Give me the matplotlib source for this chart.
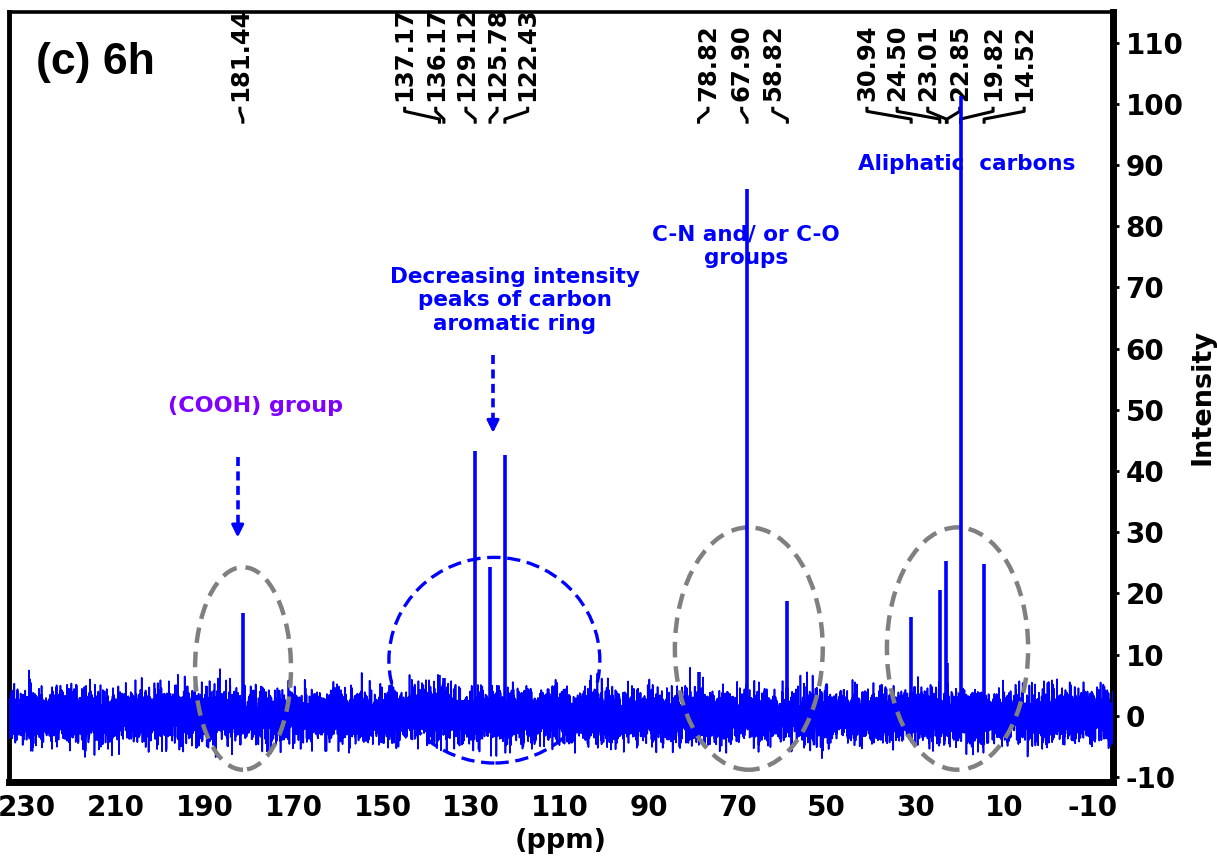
import numpy as np
import matplotlib

matplotlib.use("Agg")
import matplotlib.pyplot as plt
import matplotlib.transforms as mtransforms
from matplotlib.patches import Ellipse

plt.rcParams.update(
    {
        "font.family": ["DejaVu Sans"],
        "font.weight": "bold",
        "axes.labelweight": "bold",
        "axes.unicode_minus": False,
    }
)

BLUE = "#0000FF"
GRAY = "#808080"
VIOLET = "#8000FF"

# 13C NMR peaks (ppm) and their intensities
peak_ppm = [181.44, 137.17, 136.17, 129.12, 125.78, 122.43,
            78.82, 67.90, 58.82,
            30.94, 24.50, 23.01, 22.85, 19.82, 14.52]
peak_int = [16.8, 6.7, 6.2, 43.2, 24.3, 42.7,
            7.2, 86.1, 18.8,
            16.2, 20.6, 25.3, 8.7, 101.3, 24.8]
peak_labels = ["181.44", "137.17", "136.17", "129.12", "125.78", "122.43",
               "78.82", "67.90", "58.82",
               "30.94", "24.50", "23.01", "22.85", "19.82", "14.52"]

x_ticks = [230, 210, 190, 170, 150, 130, 110, 90, 70, 50, 30, 10, -10]
y_ticks = [-10, 0, 10, 20, 30, 40, 50, 60, 70, 80, 90, 100, 110]

# where each rotated shift label sits along the ppm axis
label_pos = [182.1, 145.0, 138.0, 131.2, 124.2, 117.3,
             76.7, 69.1, 62.1,
             40.9, 34.1, 27.2, 20.0, 12.5, 5.5]

# baseline noise of the spectrum
rng = np.random.default_rng(11)
ppm_grid = np.linspace(235, -15, 14000)
baseline = rng.normal(0, 2.05, ppm_grid.size)

fig = plt.figure(figsize=(12.17, 8.6), dpi=100)
ax = fig.add_axes([0.0074, 0.0907, 0.9071, 0.8953])

ax.plot(ppm_grid, baseline, color=BLUE, lw=1.2, zorder=3)
ax.vlines(peak_ppm, 0, peak_int, color=BLUE, lw=2.6, zorder=6)

ax.set_xlim(234.1, -14.5)
ax.set_ylim(-10.8, 115)
ax.set_xticks(x_ticks)
ax.set_xticklabels([str(v) for v in x_ticks])
ax.set_yticks(y_ticks)
ax.yaxis.tick_right()
ax.yaxis.set_label_position("right")
ax.tick_params(axis="x", length=0, pad=9, labelsize=20)
ax.tick_params(axis="y", direction="out", length=4, width=2, pad=5, labelsize=20)
for lab in ax.get_xticklabels() + ax.get_yticklabels():
    lab.set_fontweight("bold")

ax.spines["left"].set_linewidth(3.5)
ax.spines["bottom"].set_linewidth(5)
ax.spines["right"].set_linewidth(5)
ax.spines["top"].set_linewidth(2.6)

ax.set_xlabel("(ppm)", fontsize=19.5, labelpad=4)
ax.set_ylabel("Intensity", fontsize=19.5, labelpad=4)

# shift labels with bracket connectors
trans = mtransforms.blended_transform_factory(ax.transData, ax.transAxes)
for lx, px, txt in zip(label_pos, peak_ppm, peak_labels):
    ax.text(lx, 0.884, txt, rotation=90, ha="center", va="bottom",
            fontsize=17.5, transform=trans, clip_on=True, zorder=4)
    ax.plot([lx, lx, px, px], [0.877, 0.871, 0.861, 0.855],
            color="black", lw=2.2, transform=trans, zorder=4,
            solid_capstyle="butt")

# grouped regions
ax.add_patch(Ellipse((181.4, 7.75), 21.6, 33.1, fill=False, ec=GRAY,
                     lw=3.2, ls=(0, (3.5, 2)), zorder=5))
ax.add_patch(Ellipse((124.8, 9.1), 47.5, 33.6, fill=False, ec=BLUE,
                     lw=2.4, ls=(0, (4, 2)), zorder=5))
ax.add_patch(Ellipse((67.5, 11.0), 33.3, 39.6, fill=False, ec=GRAY,
                     lw=3.2, ls=(0, (3.5, 2)), zorder=5))
ax.add_patch(Ellipse((20.5, 11.0), 31.8, 39.6, fill=False, ec=GRAY,
                     lw=3.2, ls=(0, (3.5, 2)), zorder=5))


def dashed_arrow(x, y0, y1):
    ax.plot([x, x], [y0, y1 + 2.0], color=BLUE, lw=2.6, ls=(0, (2.5, 1.5)), zorder=5)
    ax.annotate("", xy=(x, y1), xytext=(x, y1 + 2.6),
                arrowprops=dict(arrowstyle="-|>", color=BLUE, lw=2.2,
                                mutation_scale=18), zorder=5)


dashed_arrow(182.6, 42.3, 28.7)
dashed_arrow(125.1, 58.9, 45.8)

ax.text(178.5, 50.7, "(COOH) group", color=VIOLET, fontsize=16,
        ha="center", va="center")
ax.text(120.2, 67.9, "Decreasing intensity\npeaks of carbon\naromatic ring",
        color=BLUE, fontsize=15.5, ha="center", va="center", linespacing=1.2)
ax.text(68.2, 76.7, "C-N and/ or C-O\ngroups", color=BLUE, fontsize=15.5,
        ha="center", va="center", linespacing=1.2)
ax.text(18.4, 90.2, "Aliphatic  carbons", color=BLUE, fontsize=15.5,
        ha="center", va="center")

ax.text(0.024, 0.935, "(c) 6h", transform=ax.transAxes, fontsize=32,
        family=["Liberation Sans", "DejaVu Sans"], ha="left", va="center")

fig.savefig("out.png", dpi=100, facecolor="white")
